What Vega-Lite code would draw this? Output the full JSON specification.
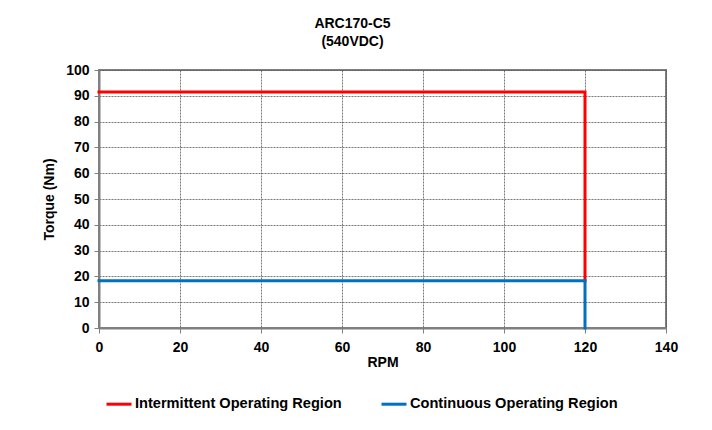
{
  "$schema": "https://vega.github.io/schema/vega-lite/v6.json",
  "autosize": "none",
  "width": 567,
  "height": 258,
  "padding": {"left": 99, "top": 70, "right": 46, "bottom": 102},
  "background": "white",
  "title": {
    "text": ["ARC170-C5", "(540VDC)"],
    "font": "Liberation Sans",
    "fontSize": 14,
    "fontWeight": "bold",
    "color": "#000000",
    "anchor": "middle",
    "frame": "group",
    "dx": -30,
    "offset": 14,
    "lineHeight": 18
  },
  "data": {
    "values": [
      {"series": "Intermittent Operating Region", "order": 1, "rpm": 0, "torque": 91.5},
      {"series": "Intermittent Operating Region", "order": 2, "rpm": 120, "torque": 91.5},
      {"series": "Intermittent Operating Region", "order": 3, "rpm": 120, "torque": 18.3},
      {"series": "Continuous Operating Region", "order": 1, "rpm": 0, "torque": 18.3},
      {"series": "Continuous Operating Region", "order": 2, "rpm": 120, "torque": 18.3},
      {"series": "Continuous Operating Region", "order": 3, "rpm": 120, "torque": 0}
    ]
  },
  "mark": {"type": "line", "strokeWidth": 3, "strokeCap": "square", "strokeJoin": "miter"},
  "encoding": {
    "x": {
      "field": "rpm", "type": "quantitative",
      "scale": {"domain": [0, 140], "nice": false},
      "axis": {"values": [0, 20, 40, 60, 80, 100, 120, 140], "title": "RPM", "titlePadding": 1, "labelPadding": 7, "labelFlush": false}
    },
    "y": {
      "field": "torque", "type": "quantitative",
      "scale": {"domain": [0, 100], "nice": false},
      "axis": {"values": [0, 10, 20, 30, 40, 50, 60, 70, 80, 90, 100], "title": "Torque (Nm)", "titlePadding": 9, "labelPadding": 5, "labelFlush": false}
    },
    "order": {"field": "order", "type": "quantitative"},
    "color": {
      "field": "series", "type": "nominal",
      "scale": {
        "domain": ["Intermittent Operating Region", "Continuous Operating Region"],
        "range": ["#FF0000", "#0070C0"]
      },
      "legend": {
        "title": null,
        "orient": "none",
        "direction": "horizontal",
        "legendX": 6,
        "legendY": 320,
        "symbolType": "stroke",
        "symbolSize": 625,
        "symbolStrokeWidth": 3,
        "labelFont": "Liberation Sans",
        "labelFontSize": 14.6,
        "labelFontWeight": "bold",
        "labelColor": "#000000",
        "labelLimit": 400,
        "labelOffset": 2,
        "columnPadding": 33
      }
    }
  },
  "config": {
    "view": {"stroke": "#808080", "strokeWidth": 2},
    "axis": {
      "labelFont": "Liberation Sans",
      "labelFontSize": 14,
      "labelFontWeight": "bold",
      "labelColor": "#000000",
      "titleFont": "Liberation Sans",
      "titleFontSize": 14,
      "titleFontWeight": "bold",
      "titleColor": "#000000",
      "domainColor": "#808080",
      "domainWidth": 2,
      "tickColor": "#808080",
      "tickSize": 5,
      "tickWidth": 1,
      "grid": true,
      "gridColor": "#555555",
      "gridDash": [2, 1],
      "gridWidth": 0.8
    }
  }
}
